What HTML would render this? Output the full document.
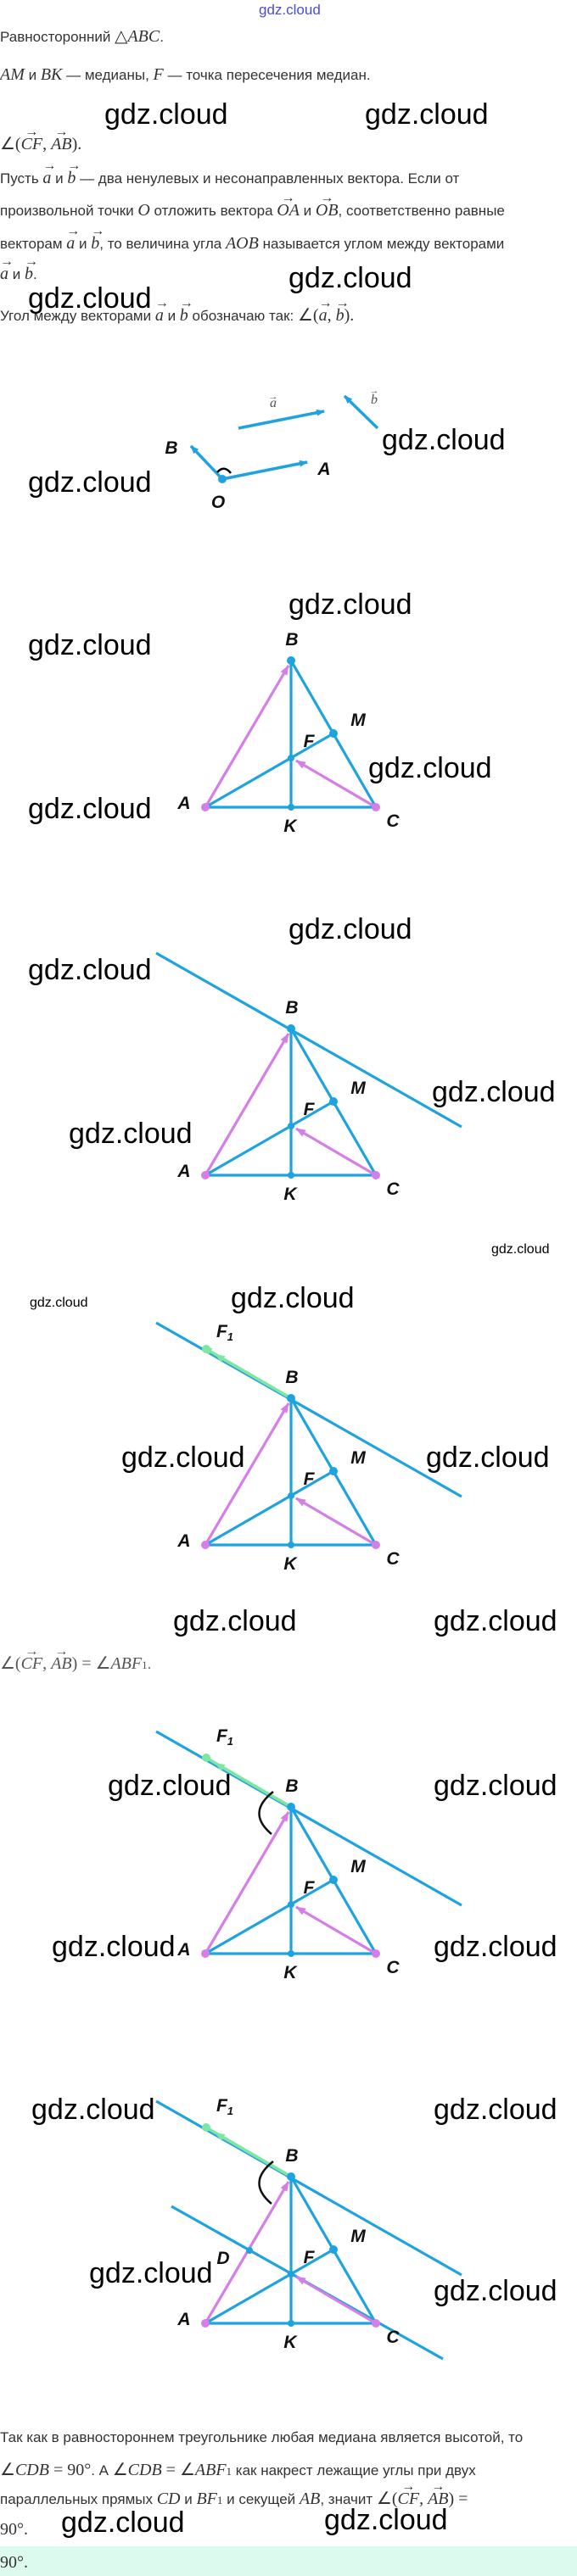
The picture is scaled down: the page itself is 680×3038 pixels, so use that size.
<!DOCTYPE html>
<html><head><meta charset="utf-8"><style>
html,body{margin:0;padding:0;background:#fff;}
body{width:680px;height:3038px;position:relative;overflow:hidden;font-family:"Liberation Sans",sans-serif;}
.t{position:absolute;left:0;white-space:nowrap;font-size:17px;color:#333;line-height:22px;}
.m{font-family:"Liberation Serif",serif;font-style:italic;font-size:20px;}
.r{font-family:"Liberation Serif",serif;font-size:20px;}
.v{position:relative;display:inline-block;}
.v::before{content:"→";position:absolute;left:0;right:0;top:-14px;text-align:center;font-style:normal;font-size:16px;}
.wm{position:absolute;font-family:"Liberation Sans",sans-serif;font-size:34px;color:#000;white-space:nowrap;line-height:40px;}
svg{position:absolute;left:0;top:0;}
</style></head><body>
<svg width="680" height="3038" viewBox="0 0 680 3038">
<defs>
<marker id="bh" markerWidth="10" markerHeight="8" refX="9" refY="4" orient="auto" markerUnits="userSpaceOnUse"><path d="M0,0 L10,4 L0,8 z" fill="#1ea3df"/></marker>
<marker id="ph" markerWidth="12" markerHeight="9" refX="11" refY="4.5" orient="auto" markerUnits="userSpaceOnUse"><path d="M0,0 L12,4.5 L0,9 z" fill="#d67ee8"/></marker>
<marker id="gh" markerWidth="12" markerHeight="9" refX="6" refY="4.5" orient="auto" markerUnits="userSpaceOnUse"><path d="M0,0 L12,4.5 L0,9 z" fill="#7de6a2"/></marker>
</defs>
<rect x="0" y="3003" width="680" height="35" fill="#dcfbee"/>
<!-- vectors diagram -->
<g stroke="#1ea3df" stroke-width="3.5" fill="none">
<line x1="281" y1="505" x2="382" y2="485" marker-end="url(#bh)"/>
<line x1="445" y1="505" x2="406" y2="467" marker-end="url(#bh)"/>
<line x1="262" y1="565" x2="362" y2="545" marker-end="url(#bh)"/>
<line x1="262" y1="565" x2="225" y2="526" marker-end="url(#bh)"/>
</g>
<path d="M256,557 Q264,548 272,558" stroke="#000" stroke-width="2.5" fill="none"/>
<circle cx="262" cy="565" r="5" fill="#1ea3df"/>
<g font-family="Liberation Serif,serif" font-style="italic" font-size="16" fill="#555" text-anchor="middle">
<text x="322" y="480">a</text><text x="322" y="471" font-style="normal" font-size="11">→</text>
<text x="441" y="476">b</text><text x="441" y="464" font-style="normal" font-size="11">→</text>
</g>
<g font-family="Liberation Sans,sans-serif" font-style="italic" font-weight="bold" font-size="21" fill="#111" text-anchor="middle">
<text x="202" y="535">B</text><text x="382" y="560">A</text><text x="257" y="599">O</text>
</g>

<!-- triangles -->
<g id="t1">
<g stroke="#1ea3df" stroke-width="3.2" fill="none">
<line x1="242" y1="952" x2="443" y2="952"/><line x1="343" y1="779" x2="443" y2="952"/>
<line x1="343" y1="779" x2="343" y2="952"/><line x1="242" y1="952" x2="393" y2="865"/>
</g>
<g stroke="#d67ee8" stroke-width="3.2" fill="none">
<line x1="242" y1="952" x2="340" y2="785" marker-end="url(#ph)"/>
<line x1="443" y1="952" x2="349" y2="897" marker-end="url(#ph)"/>
</g>
<g fill="#1ea3df"><circle cx="343" cy="779" r="5"/><circle cx="393" cy="865" r="5"/><circle cx="343" cy="894" r="4"/><circle cx="343" cy="952" r="4"/></g>
<g fill="#d67ee8"><circle cx="242" cy="952" r="5"/><circle cx="443" cy="952" r="5"/></g>
<g font-family="Liberation Sans,sans-serif" font-style="italic" font-weight="bold" font-size="21" fill="#111" text-anchor="middle">
<text x="344" y="761">B</text><text x="422" y="856">M</text><text x="364" y="881">F</text><text x="217" y="954">A</text><text x="342" y="981">K</text><text x="463" y="975">C</text>
</g>
</g>

<g transform="translate(0,434)">
<line x1="184" y1="690" x2="544" y2="895" stroke="#1ea3df" stroke-width="3.2"/>
<g stroke="#1ea3df" stroke-width="3.2" fill="none">
<line x1="242" y1="952" x2="443" y2="952"/><line x1="343" y1="779" x2="443" y2="952"/>
<line x1="343" y1="779" x2="343" y2="952"/><line x1="242" y1="952" x2="393" y2="865"/>
</g>
<g stroke="#d67ee8" stroke-width="3.2" fill="none">
<line x1="242" y1="952" x2="340" y2="785" marker-end="url(#ph)"/>
<line x1="443" y1="952" x2="349" y2="897" marker-end="url(#ph)"/>
</g>
<g fill="#1ea3df"><circle cx="343" cy="779" r="5"/><circle cx="393" cy="865" r="5"/><circle cx="343" cy="894" r="4"/><circle cx="343" cy="952" r="4"/></g>
<g fill="#d67ee8"><circle cx="242" cy="952" r="5"/><circle cx="443" cy="952" r="5"/></g>
<g font-family="Liberation Sans,sans-serif" font-style="italic" font-weight="bold" font-size="21" fill="#111" text-anchor="middle">
<text x="344" y="761">B</text><text x="422" y="856">M</text><text x="364" y="881">F</text><text x="217" y="954">A</text><text x="342" y="981">K</text><text x="463" y="975">C</text>
</g>
</g>

<g transform="translate(0,870)">
<line x1="184" y1="690" x2="544" y2="895" stroke="#1ea3df" stroke-width="3.2"/>
<line x1="343" y1="779" x2="243" y2="721" stroke="#7de6a2" stroke-width="3.5" marker-end="url(#gh)"/>
<line x1="343" y1="779" x2="258" y2="730" stroke="#7de6a2" stroke-width="3.5" marker-end="url(#gh)"/>
<circle cx="243" cy="721" r="5" fill="#7de6a2"/>
<g stroke="#1ea3df" stroke-width="3.2" fill="none">
<line x1="242" y1="952" x2="443" y2="952"/><line x1="343" y1="779" x2="443" y2="952"/>
<line x1="343" y1="779" x2="343" y2="952"/><line x1="242" y1="952" x2="393" y2="865"/>
</g>
<g stroke="#d67ee8" stroke-width="3.2" fill="none">
<line x1="242" y1="952" x2="340" y2="785" marker-end="url(#ph)"/>
<line x1="443" y1="952" x2="349" y2="897" marker-end="url(#ph)"/>
</g>
<g fill="#1ea3df"><circle cx="343" cy="779" r="5"/><circle cx="393" cy="865" r="5"/><circle cx="343" cy="894" r="4"/><circle cx="343" cy="952" r="4"/></g>
<g fill="#d67ee8"><circle cx="242" cy="952" r="5"/><circle cx="443" cy="952" r="5"/></g>
<g font-family="Liberation Sans,sans-serif" font-style="italic" font-weight="bold" font-size="21" fill="#111" text-anchor="middle">
<text x="344" y="761">B</text><text x="422" y="856">M</text><text x="364" y="881">F</text><text x="217" y="954">A</text><text x="342" y="981">K</text><text x="463" y="975">C</text>
<text x="265" y="707">F<tspan font-size="13" dy="4">1</tspan></text>
</g>
</g>

<g transform="translate(0,1352)">
<line x1="184" y1="690" x2="544" y2="895" stroke="#1ea3df" stroke-width="3.2"/>
<line x1="343" y1="779" x2="243" y2="721" stroke="#7de6a2" stroke-width="3.5"/>
<line x1="343" y1="779" x2="258" y2="730" stroke="#7de6a2" stroke-width="3.5" marker-end="url(#gh)"/>
<circle cx="243" cy="721" r="5" fill="#7de6a2"/>
<path d="M322,761 Q290,786 320,811" stroke="#111" stroke-width="2.5" fill="none"/>
<g stroke="#1ea3df" stroke-width="3.2" fill="none">
<line x1="242" y1="952" x2="443" y2="952"/><line x1="343" y1="779" x2="443" y2="952"/>
<line x1="343" y1="779" x2="343" y2="952"/><line x1="242" y1="952" x2="393" y2="865"/>
</g>
<g stroke="#d67ee8" stroke-width="3.2" fill="none">
<line x1="242" y1="952" x2="340" y2="785" marker-end="url(#ph)"/>
<line x1="443" y1="952" x2="349" y2="897" marker-end="url(#ph)"/>
</g>
<g fill="#1ea3df"><circle cx="343" cy="779" r="5"/><circle cx="393" cy="865" r="5"/><circle cx="343" cy="894" r="4"/><circle cx="343" cy="952" r="4"/></g>
<g fill="#d67ee8"><circle cx="242" cy="952" r="5"/><circle cx="443" cy="952" r="5"/></g>
<g font-family="Liberation Sans,sans-serif" font-style="italic" font-weight="bold" font-size="21" fill="#111" text-anchor="middle">
<text x="344" y="761">B</text><text x="422" y="856">M</text><text x="364" y="881">F</text><text x="217" y="954">A</text><text x="342" y="981">K</text><text x="463" y="975">C</text>
<text x="265" y="702">F<tspan font-size="13" dy="4">1</tspan></text>
</g>
</g>

<g transform="translate(0,1788)">
<line x1="184" y1="690" x2="544" y2="895" stroke="#1ea3df" stroke-width="3.2"/>
<line x1="202" y1="814" x2="522" y2="994" stroke="#1ea3df" stroke-width="3.2"/>
<line x1="343" y1="779" x2="243" y2="721" stroke="#7de6a2" stroke-width="3.5"/>
<line x1="343" y1="779" x2="258" y2="730" stroke="#7de6a2" stroke-width="3.5" marker-end="url(#gh)"/>
<circle cx="243" cy="721" r="5" fill="#7de6a2"/>
<path d="M322,761 Q290,786 320,811" stroke="#111" stroke-width="2.5" fill="none"/>
<g stroke="#1ea3df" stroke-width="3.2" fill="none">
<line x1="242" y1="952" x2="443" y2="952"/><line x1="343" y1="779" x2="443" y2="952"/>
<line x1="343" y1="779" x2="343" y2="952"/><line x1="242" y1="952" x2="393" y2="865"/>
</g>
<g stroke="#d67ee8" stroke-width="3.2" fill="none">
<line x1="242" y1="952" x2="340" y2="785" marker-end="url(#ph)"/>
<line x1="443" y1="952" x2="349" y2="897" marker-end="url(#ph)"/>
</g>
<g fill="#1ea3df"><circle cx="343" cy="779" r="5"/><circle cx="393" cy="865" r="5"/><circle cx="343" cy="894" r="4"/><circle cx="343" cy="952" r="4"/><circle cx="294" cy="866" r="4"/></g>
<g fill="#d67ee8"><circle cx="242" cy="952" r="5"/><circle cx="443" cy="952" r="5"/></g>
<g font-family="Liberation Sans,sans-serif" font-style="italic" font-weight="bold" font-size="21" fill="#111" text-anchor="middle">
<text x="344" y="761">B</text><text x="422" y="856">M</text><text x="364" y="881">F</text><text x="217" y="954">A</text><text x="342" y="981">K</text><text x="463" y="975">C</text>
<text x="265" y="702">F<tspan font-size="13" dy="4">1</tspan></text>
<text x="263" y="882">D</text>
</g>
</g>
</svg>

<div style="position:absolute;left:305px;top:2px;font-size:17px;color:#4b4bd8;font-family:'Liberation Sans',sans-serif;">gdz.cloud</div>

<div class="t" style="top:32px">Равносторонний <span class="r">△</span><span class="m">ABC</span>.</div>
<div class="t" style="top:77px"><span class="m">AM</span> и <span class="m">BK</span> — медианы, <span class="m">F</span> — точка пересечения медиан.</div>
<div class="t" style="top:159px"><span class="r">∠(</span><span class="m v">CF</span><span class="r">, </span><span class="m v">AB</span><span class="r">).</span></div>
<div class="t" style="top:199px">Пусть <span class="m v">a</span> и <span class="m v">b</span> — два ненулевых и несонаправленных вектора. Если от</div>
<div class="t" style="top:237px">произвольной точки <span class="m">O</span> отложить вектора <span class="m v">OA</span> и <span class="m v">OB</span>, соответственно равные</div>
<div class="t" style="top:276px">векторам <span class="m v">a</span> и <span class="m v">b</span>, то величина угла <span class="m">AOB</span> называется углом между векторами</div>
<div class="t" style="top:312px"><span class="m v">a</span> и <span class="m v">b</span>.</div>
<div class="t" style="top:361px">Угол между векторами <span class="m v">a</span> и <span class="m v">b</span> обозначаю так: <span class="r">∠(</span><span class="m v">a</span><span class="r">, </span><span class="m v">b</span><span class="r">).</span></div>

<div class="t" style="top:1951px;color:#555"><span class="r">∠(</span><span class="m v">CF</span><span class="r">, </span><span class="m v">AB</span><span class="r">) = ∠</span><span class="m">ABF</span><span class="r" style="font-size:13px">1</span>.</div>

<div class="t" style="top:2864px">Так как в равностороннем треугольнике любая медиана является высотой, то</div>
<div class="t" style="top:2902px"><span class="r">∠</span><span class="m">CDB</span><span class="r"> = 90°</span>. А <span class="r">∠</span><span class="m">CDB</span><span class="r"> = ∠</span><span class="m">ABF</span><span class="r" style="font-size:13px">1</span> как накрест лежащие углы при двух</div>
<div class="t" style="top:2936px">параллельных прямых <span class="m">CD</span> и <span class="m">BF</span><span class="r" style="font-size:13px">1</span> и секущей <span class="m">AB</span>, значит <span class="r">∠(</span><span class="m v">CF</span><span class="r">, </span><span class="m v">AB</span><span class="r">) =</span></div>
<div class="t" style="top:2972px"><span class="r">90°.</span></div>
<div class="t" style="top:3011px"><span class="r">90°.</span></div>

<div class="wm" style="left:123px;top:115px">gdz.cloud</div>
<div class="wm" style="left:430px;top:115px">gdz.cloud</div>
<div class="wm" style="left:340px;top:308px">gdz.cloud</div>
<div class="wm" style="left:33px;top:332px">gdz.cloud</div>
<div class="wm" style="left:450px;top:499px">gdz.cloud</div>
<div class="wm" style="left:33px;top:549px">gdz.cloud</div>
<div class="wm" style="left:340px;top:693px">gdz.cloud</div>
<div class="wm" style="left:33px;top:741px">gdz.cloud</div>
<div class="wm" style="left:434px;top:886px">gdz.cloud</div>
<div class="wm" style="left:33px;top:934px">gdz.cloud</div>
<div class="wm" style="left:340px;top:1076px">gdz.cloud</div>
<div class="wm" style="left:33px;top:1124px">gdz.cloud</div>
<div class="wm" style="left:509px;top:1268px">gdz.cloud</div>
<div class="wm" style="left:81px;top:1317px">gdz.cloud</div>
<div style="position:absolute;left:579px;top:1465px;font-size:16px;">gdz.cloud</div>
<div style="position:absolute;left:35px;top:1528px;font-size:16px;">gdz.cloud</div>
<div class="wm" style="left:272px;top:1511px">gdz.cloud</div>
<div class="wm" style="left:143px;top:1699px">gdz.cloud</div>
<div class="wm" style="left:502px;top:1699px">gdz.cloud</div>
<div class="wm" style="left:204px;top:1892px">gdz.cloud</div>
<div class="wm" style="left:511px;top:1892px">gdz.cloud</div>
<div class="wm" style="left:127px;top:2086px">gdz.cloud</div>
<div class="wm" style="left:511px;top:2086px">gdz.cloud</div>
<div class="wm" style="left:61px;top:2276px">gdz.cloud</div>
<div class="wm" style="left:511px;top:2276px">gdz.cloud</div>
<div class="wm" style="left:37px;top:2468px">gdz.cloud</div>
<div class="wm" style="left:511px;top:2468px">gdz.cloud</div>
<div class="wm" style="left:105px;top:2661px">gdz.cloud</div>
<div class="wm" style="left:511px;top:2682px">gdz.cloud</div>
<div class="wm" style="left:72px;top:2955px">gdz.cloud</div>
<div class="wm" style="left:382px;top:2952px">gdz.cloud</div>
</body></html>
